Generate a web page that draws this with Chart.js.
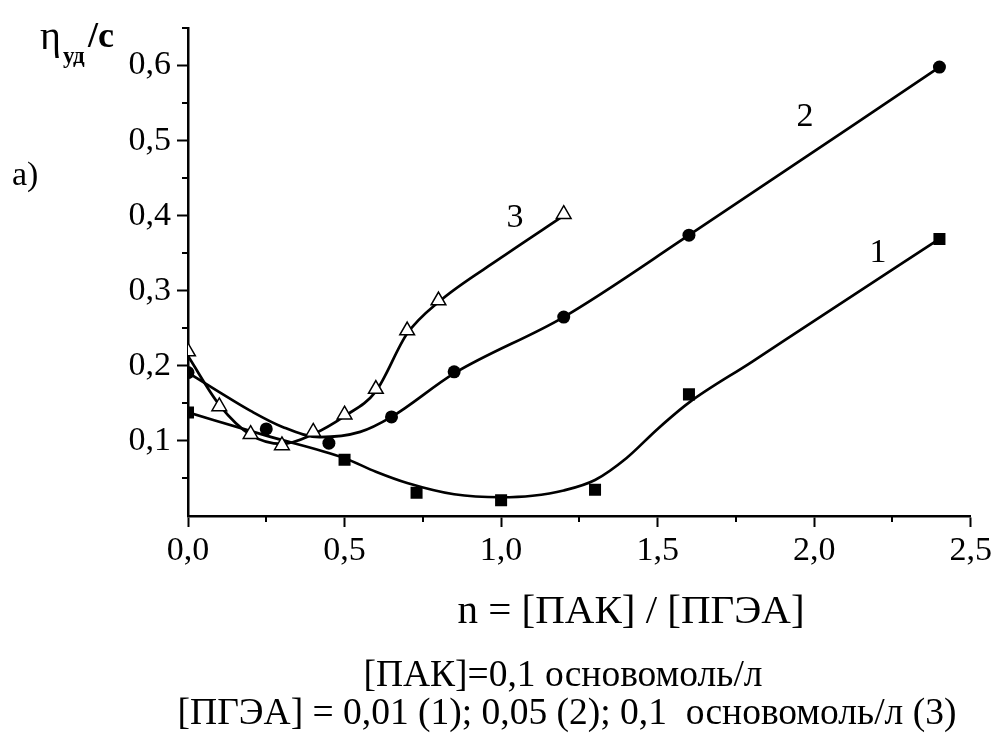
<!DOCTYPE html>
<html>
<head>
<meta charset="utf-8">
<script src="https://cdn.jsdelivr.net/npm/chart.js@4.4.1/dist/chart.umd.min.js"></script>
<style>
    html, body { margin: 0; padding: 0; background: #fff; }
    #box { width: 996px; height: 736px; }
</style>
</head>
<body>
<div id="box"><canvas id="myChart" width="996" height="736"></canvas></div>
<script>
// measured points (1) [ПГЭА]=0,01, (2) 0,05, (3) 0,1
const n1 = [0, 0.5, 0.73, 1.0, 1.3, 1.6, 2.4];
const eta1 = [0.138, 0.075, 0.031, 0.021, 0.035, 0.162, 0.369];
const n2 = [0, 0.25, 0.45, 0.65, 0.85, 1.2, 1.6, 2.4];
const eta2 = [0.191, 0.116, 0.097, 0.132, 0.192, 0.265, 0.374, 0.598];
const n3 = [0, 0.1, 0.2, 0.3, 0.4, 0.5, 0.6, 0.7, 0.8, 1.2];
const eta3 = [0.219, 0.146, 0.109, 0.094, 0.112, 0.135, 0.169, 0.247, 0.287, 0.402];

// smoothed curves
const fitN1 = [0, 0.25, 0.5, 0.6, 0.7, 0.85, 1.0, 1.1, 1.2, 1.3, 1.4, 1.5, 1.6, 1.8, 2.0, 2.4];
const fitE1 = [0.138, 0.107, 0.077, 0.059, 0.044, 0.029, 0.025, 0.027, 0.034, 0.048, 0.077, 0.116, 0.151, 0.205, 0.260, 0.369];
const fitN2 = [0, 0.1, 0.2, 0.3, 0.42, 0.55, 0.65, 0.85, 1.2, 1.6, 2.4];
const fitE2 = [0.191, 0.165, 0.140, 0.119, 0.105, 0.112, 0.132, 0.190, 0.265, 0.374, 0.598];
const fitN3 = [0, 0.1, 0.2, 0.3, 0.4, 0.5, 0.6, 0.7, 0.8, 1.0, 1.2];
const fitE3 = [0.213, 0.148, 0.108, 0.096, 0.109, 0.133, 0.166, 0.243, 0.285, 0.344, 0.400];

const xTicks = ['0,0', '0,5', '1,0', '1,5', '2,0', '2,5'];
const yTicks = ['0,1', '0,2', '0,3', '0,4', '0,5', '0,6'];
const curveLabels = ['1', '2', '3'];

const FONT = "'Liberation Serif', 'Times New Roman', serif";

const toXY = (xs, ys) => xs.map((x, i) => ({ x: x, y: ys[i] }));
const isMajor = (v, step) => Math.abs(v / step - Math.round(v / step)) < 1e-6;

const curve = (xs, ys) => ({
    data: toXY(xs, ys),
    showLine: true,
    borderColor: '#000',
    borderWidth: 2.7,
    pointRadius: 0,
    cubicInterpolationMode: 'monotone',
    order: 2,
});

// minor ticks + extra texts
const extras = {
    id: 'extras',
    afterDraw(chart) {
        const ctx = chart.ctx;
        const xs = chart.scales.x;
        const ys = chart.scales.y;
        ctx.save();
        ctx.strokeStyle = '#000';
        ctx.lineWidth = 2;
        ctx.beginPath();
        for (let v = 0.25; v < 2.5; v += 0.5) {
            const px = Math.round(xs.getPixelForValue(v));
            ctx.moveTo(px, xs.top);
            ctx.lineTo(px, xs.top + 6);
        }
        for (let v = 0.05; v < 0.65; v += 0.1) {
            const py = Math.round(ys.getPixelForValue(v));
            ctx.moveTo(ys.right, py);
            ctx.lineTo(ys.right - 6, py);
        }
        ctx.stroke();

        ctx.fillStyle = '#000';
        ctx.textBaseline = 'alphabetic';
        ctx.textAlign = 'left';

        // y title
        ctx.font = `40px ${FONT}`;
        ctx.fillText('η', 40, 49);
        ctx.font = `bold 23px ${FONT}`;
        ctx.fillText('уд', 63, 63);
        ctx.font = `bold 36px ${FONT}`;
        ctx.fillText('/c', 88, 47);

        ctx.font = `34px ${FONT}`;
        ctx.fillText('а)', 12, 185);

        // curve numbers
        ctx.textAlign = 'center';
        ctx.fillText(curveLabels[2], 515, 227);
        ctx.fillText(curveLabels[1], 805, 126);
        ctx.fillText(curveLabels[0], 878, 262);

        // x title
        ctx.font = `41px ${FONT}`;
        ctx.fillText('n = [ПАК] / [ПГЭА]', 631, 623);

        ctx.font = `37.5px ${FONT}`;
        ctx.fillText('[ПАК]=0,1 основомоль/л', 563, 686);
        ctx.fillText('[ПГЭА] = 0,01 (1); 0,05 (2); 0,1  основомоль/л (3)', 567, 724);
        ctx.restore();
    },
};

const ctx = document.getElementById('myChart').getContext('2d');
new Chart(ctx, {
    type: 'scatter',
    data: {
        datasets: [
            curve(fitN1, fitE1),
            curve(fitN2, fitE2),
            curve(fitN3, fitE3),
            {
                data: toXY(n1, eta1),
                pointStyle: 'rect',
                pointRadius: 8.5,
                backgroundColor: '#000',
                borderColor: '#000',
                borderWidth: 0,
                order: 1,
            },
            {
                data: toXY(n2, eta2),
                pointStyle: 'circle',
                pointRadius: 6.5,
                backgroundColor: '#000',
                borderColor: '#000',
                borderWidth: 0,
                order: 1,
            },
            {
                data: toXY(n3, eta3),
                pointStyle: 'triangle',
                pointRadius: 8.5,
                backgroundColor: '#fff',
                borderColor: '#000',
                borderWidth: 1.5,
                order: 1,
            },
        ],
    },
    options: {
        responsive: false,
        animation: false,
        layout: { padding: { top: 28, right: 23, left: 0, bottom: 0 } },
        plugins: {
            legend: { display: false },
            tooltip: { enabled: false },
        },
        scales: {
            x: {
                type: 'linear',
                min: 0,
                max: 2.5,
                afterFit: (scale) => { scale.height = 220; },
                border: { color: '#000', width: 2.5 },
                grid: {
                    drawOnChartArea: false,
                    tickLength: 11,
                    tickWidth: 2,
                    tickColor: (c) => c.tick && isMajor(c.tick.value, 0.5) ? '#000' : 'rgba(0,0,0,0)',
                },
                ticks: {
                    stepSize: 0.5,
                    autoSkip: false,
                    color: '#000',
                    padding: 4,
                    maxRotation: 0,
                    font: { family: FONT, size: 34 },
                    callback: (v) => xTicks[Math.round(v / 0.5)],
                },
            },
            y: {
                type: 'linear',
                min: 0,
                max: 0.65,
                afterFit: (scale) => { scale.width = 188; },
                border: { color: '#000', width: 2.5 },
                grid: {
                    drawOnChartArea: false,
                    tickLength: 11,
                    tickWidth: 2,
                    tickColor: (c) => c.tick && c.tick.value > 0 && isMajor(c.tick.value, 0.1) ? '#000' : 'rgba(0,0,0,0)',
                },
                ticks: {
                    stepSize: 0.05,
                    autoSkip: false,
                    color: '#000',
                    padding: 6,
                    font: { family: FONT, size: 34 },
                    callback: (v) => {
                        const k = Math.round(v / 0.1);
                        return isMajor(v, 0.1) && k >= 1 ? yTicks[k - 1] : '';
                    },
                },
            },
        },
    },
    plugins: [extras],
});
</script>
</body>
</html>
